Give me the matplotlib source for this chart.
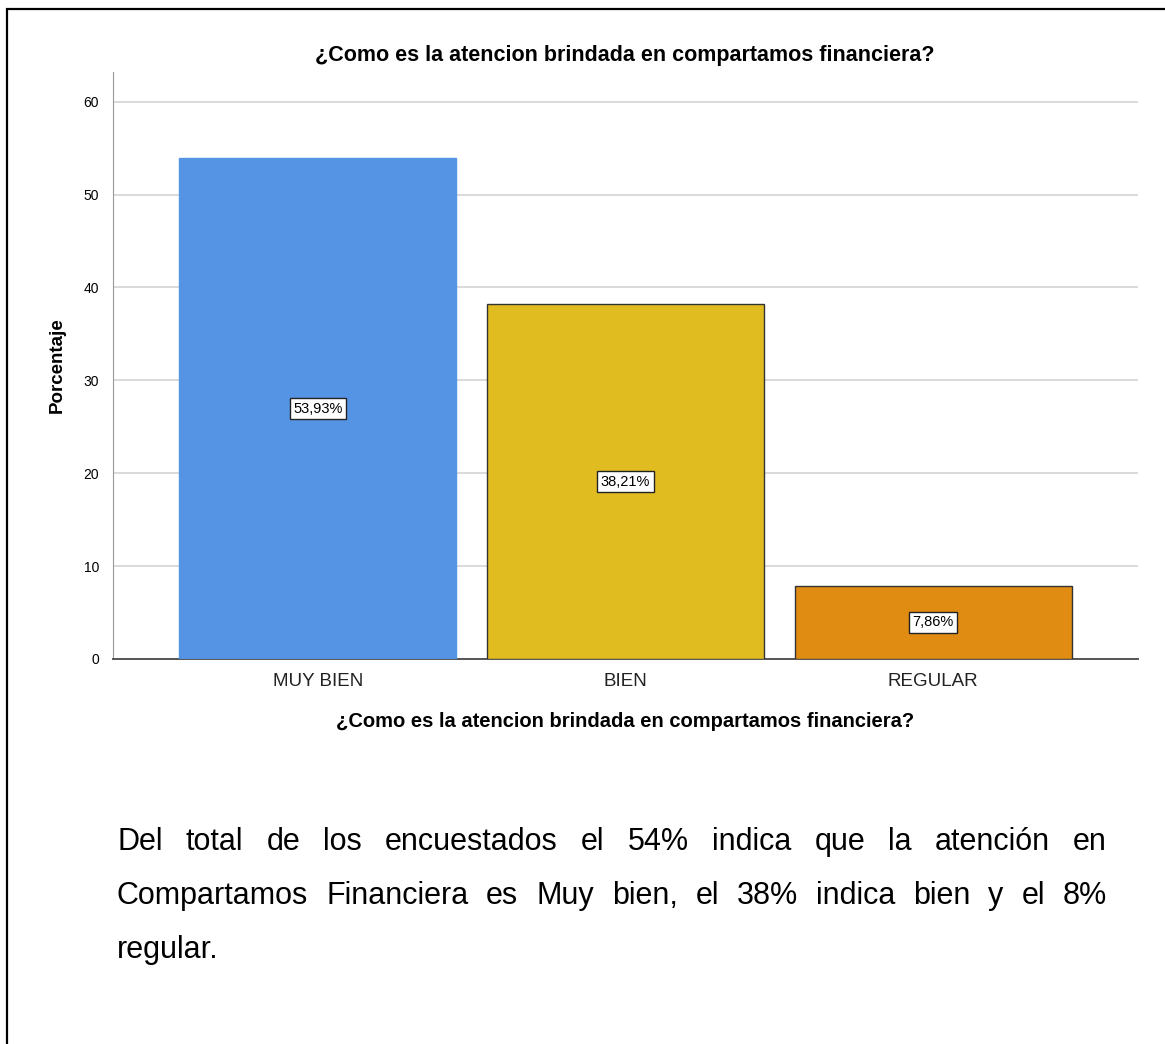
import matplotlib
matplotlib.use("Agg")
from matplotlib import pyplot as plt
from matplotlib.patches import Rectangle

categorias = ["MUY BIEN", "BIEN", "REGULAR"]
porcentajes = [53.93, 38.21, 7.86]
etiquetas = ["53,93%", "38,21%", "7,86%"]
colores = ["#5594E4", "#E1BC21", "#E08B12"]
bordes = ["#5594E4", "#333333", "#333333"]
yticks = [0, 10, 20, 30, 40, 50, 60]

titulo = "¿Como es la atencion brindada en compartamos financiera?"
parrafo = [
    "Del total de los encuestados el 54% indica que la atención en",
    "Compartamos Financiera es Muy bien, el 38% indica bien y el 8%",
    "regular.",
]

plt.rcParams['font.family'] = ['Liberation Sans', 'DejaVu Sans']

W, H = 1165, 1044
fig = plt.figure(figsize=(W / 100, H / 100), dpi=100)
fig.patch.set_facecolor("white")

# marco exterior
fig.patches.append(Rectangle((7 / W, -0.1), 1.2, 1 - 9 / H + 0.1, transform=fig.transFigure,
                             fill=False, edgecolor="black", linewidth=1.6))

ax = fig.add_axes([113 / W, 1 - 659 / H, (1138 - 113) / W, (659 - 72) / H])
x = range(len(categorias))
ax.bar(x, porcentajes, width=0.9, color=colores, edgecolor=bordes, linewidth=1.0, zorder=3)
for i, v in enumerate(porcentajes):
    ax.text(i, v / 2, etiquetas[i], ha="center", va="center", fontsize=10.5, zorder=4,
            bbox=dict(boxstyle="square,pad=0.25", facecolor="white", edgecolor="#222222", linewidth=1))

ax.set_xlim(-0.666, 2.666)
ax.set_ylim(0, 63.2)
ax.set_yticks(yticks)
ax.set_xticks(list(x))
ax.set_xticklabels(categorias, fontsize=13.5, color="#222222")
ax.tick_params(axis="y", labelsize=10, length=0, pad=10)
ax.tick_params(axis="x", length=0, pad=10)
ax.grid(True, axis="y", color="#D3D3D3", linewidth=1.2, zorder=0)
ax.spines["top"].set_visible(False)
ax.spines["right"].set_visible(False)
ax.spines["left"].set_color("#999999")
ax.spines["bottom"].set_color("#555555")
ax.spines["bottom"].set_linewidth(1.4)
ax.set_ylabel("Porcentaje", fontsize=13.5, fontweight="bold", labelpad=13)
ax.set_xlabel(titulo, fontsize=14.5, fontweight="bold", labelpad=16)
fig.text(625 / W, 1 - 55 / H, titulo, ha="center", va="center", fontsize=15.5, fontweight="bold")

# parrafo justificado
fig.canvas.draw()
r = fig.canvas.get_renderer()
x0, x1 = 117, 1107
ys = [850, 904, 958]
fs = 22
for k, linea in enumerate(parrafo):
    yy = 1 - ys[k] / H
    if k == len(parrafo) - 1:
        fig.text(x0 / W, yy, linea, fontsize=fs, va="baseline", ha="left")
        continue
    palabras = linea.split(" ")
    objs = [fig.text(0, yy, p, fontsize=fs, va="baseline", ha="left") for p in palabras]
    anchos = [o.get_window_extent(r).width for o in objs]
    hueco = (x1 - x0 - sum(anchos)) / (len(palabras) - 1)
    pos = x0
    for o, a in zip(objs, anchos):
        o.set_x(pos / W)
        pos += a + hueco

fig.savefig("out.png", dpi=100)
